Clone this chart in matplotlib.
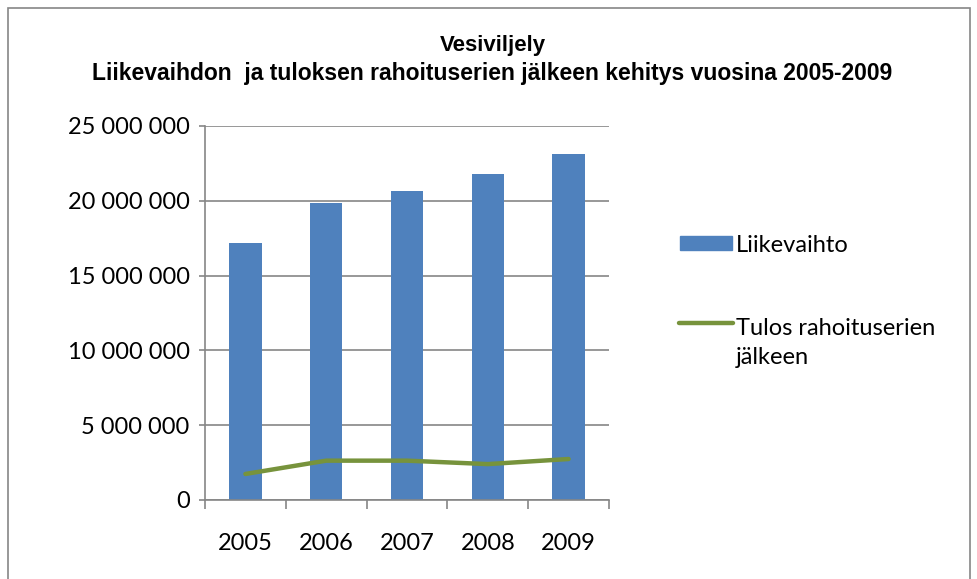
import matplotlib.pyplot as plt
import matplotlib.patches as patches
from matplotlib.lines import Line2D
from matplotlib.ticker import FuncFormatter

# ============ DATA ==============
years = ["2005", "2006", "2007", "2008", "2009"]
liikevaihto = [17200000, 19850000, 20680000, 21800000, 23150000]
tulos = [1740000, 2630000, 2630000, 2400000, 2740000]

title_1 = "Vesiviljely"
title_2 = "Liikevaihdon  ja tuloksen rahoituserien jälkeen kehitys vuosina 2005-2009"
label_bar = "Liikevaihto"
label_line = "Tulos rahoituserien\njälkeen"

BAR_COLOR = "#4F81BD"
LINE_COLOR = "#77933C"
GRID_COLOR = "#868686"
FONT = "Lato"
FS = 17

# ============ PLOT ==============
fig = plt.figure(figsize=(9.78, 5.79), dpi=100)
W, H = 978, 579
ax = fig.add_axes([205 / W, 1 - 500 / H, (609 - 205) / W, (500 - 126) / H])

x = list(range(len(years)))
ax.bar(x, liikevaihto, width=0.4, color=BAR_COLOR, zorder=2)
ax.plot(x, tulos, color=LINE_COLOR, linewidth=3.2, solid_capstyle="round", zorder=3)

ax.set_xlim(-0.5, len(years) - 0.5)
ax.set_ylim(0, 25000000)
ax.set_yticks(range(0, 25000001, 5000000))
ax.yaxis.set_major_formatter(FuncFormatter(lambda v, p: f"{int(v):,}".replace(",", " ")))
ax.grid(axis="y", color=GRID_COLOR, linewidth=1.2, zorder=0)

ax.set_xticks(x)
ax.set_xticklabels(years)
ax.set_xticks([i - 0.5 for i in range(len(years) + 1)], minor=True)
ax.tick_params(axis="x", which="major", length=0, pad=24)
ax.tick_params(axis="x", which="minor", length=6.5, width=1.2, color=GRID_COLOR, direction="out")
ax.tick_params(axis="y", length=4, width=1.2, color=GRID_COLOR, pad=7)

for lab in ax.get_xticklabels() + ax.get_yticklabels():
    lab.set_fontsize(FS)
    lab.set_family(FONT)

for side in ["top", "right"]:
    ax.spines[side].set_visible(False)
for side in ["left", "bottom"]:
    ax.spines[side].set_color(GRID_COLOR)
    ax.spines[side].set_linewidth(1.2)

# title (two lines placed separately)
fig.text(493 / W, 1 - 46 / H, title_1, ha="center", va="center",
         fontsize=16, fontweight="bold", family="Liberation Sans")
fig.text(492 / W, 1 - 74 / H, title_2, ha="center", va="center",
         fontsize=16.5, fontweight="bold", family="Liberation Sans")

# legend drawn by hand so the line handle sits on the first text line
fig.patches.append(patches.Rectangle((680 / W, 1 - 250 / H), 52 / W, 14 / H,
                                     transform=fig.transFigure, color=BAR_COLOR))
fig.text(736 / W, 1 - 245 / H, label_bar, ha="left", va="center",
         fontsize=FS, family=FONT)
fig.lines.append(Line2D([679 / W, 733 / W], [1 - 323 / H, 1 - 323 / H],
                        transform=fig.transFigure, color=LINE_COLOR,
                        linewidth=3.2, solid_capstyle="round"))
fig.text(736 / W, 1 - 343 / H, label_line, ha="left", va="center",
         fontsize=FS, family=FONT, linespacing=1.5)

# outer chart border
fig.patches.append(patches.Rectangle((8 / W, -0.01), 962 / W, 1 - 8 / H + 0.01,
                                     transform=fig.transFigure, fill=False,
                                     edgecolor=GRID_COLOR, linewidth=1.2))

fig.savefig("out.png", dpi=100)
